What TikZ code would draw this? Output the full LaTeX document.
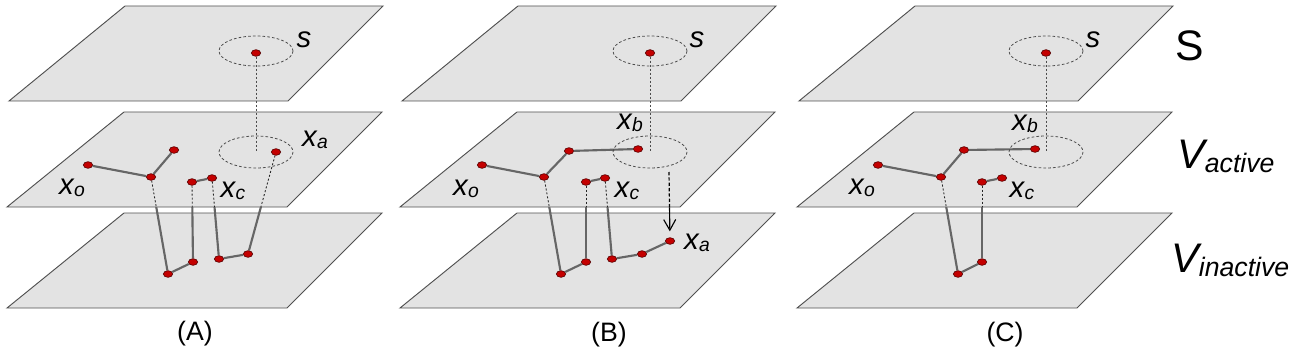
\documentclass[tikz,border=0pt]{standalone}
\usepackage{fontspec}
\setmainfont{Liberation Sans}
\usetikzlibrary{shapes.geometric,arrows.meta}

\definecolor{planefill}{HTML}{E3E3E3}
\definecolor{planeedge}{HTML}{505050}
\definecolor{linkgray}{HTML}{666666}
\definecolor{dotred}{HTML}{C40000}
\definecolor{dotedge}{HTML}{550000}

\pgfdeclarelayer{bgplane}
\pgfdeclarelayer{lowlinks}
\pgfdeclarelayer{midplane}
\pgfdeclarelayer{hiddenlinks}
\pgfsetlayers{bgplane,lowlinks,midplane,hiddenlinks,main}

\tikzset{
  plane/.style={fill=planefill, draw=planeedge, line width=0.7pt},
  dot/.style={ellipse, inner sep=0pt, minimum width=7pt, minimum height=5pt,
              fill=dotred, draw=dotedge, line width=0.45pt},
  link/.style={draw=linkgray, line width=1.6pt},
  hidden/.style={draw=black!85, line width=0.65pt, dash pattern=on 1.5pt off 1.5pt},
  ring/.style={draw=black!70, line width=0.6pt, dash pattern=on 2pt off 1.6pt},
  vdot/.style={draw=black!70, line width=0.6pt, dash pattern=on 1.5pt off 1.5pt},
  movearrow/.style={draw=black, line width=0.85pt, -{Straight Barb[length=8pt,width=9pt]}},
  movehidden/.style={draw=black, line width=0.9pt, dash pattern=on 2.5pt off 1.5pt},
  lab/.style={inner sep=0pt, font=\fontsize{22}{24}\selectfont\itshape},
  biglab/.style={inner sep=0pt, anchor=base west},
  panelcap/.style={inner sep=0pt, font=\fontsize{20}{24}\selectfont},
}
\newcommand{\lsub}[2]{#1\kern0.3pt\raisebox{-1pt}{\fontsize{14.5}{16}\selectfont #2}}
\newcommand{\midplanepath}[1]{(#1+124,112) -- (#1+382,112) -- (#1+287,207) -- (#1+7,207) -- cycle}

\begin{document}
\begin{tikzpicture}[x=0.75pt,y=-0.75pt]
\useasboundingbox (0,0) rectangle (1296,353);

% ---------- planes (top and bottom) ----------
\begin{pgfonlayer}{bgplane}
  \foreach \o in {0,393,790}{
    \filldraw[plane] (\o+125,6) -- (\o+383,6) -- (\o+288,101) -- (\o+9,101) -- cycle;
    \filldraw[plane] (\o+124,213) -- (\o+382,213) -- (\o+287,308) -- (\o+7,308) -- cycle;
  }
\end{pgfonlayer}
\begin{pgfonlayer}{midplane}
  \foreach \o in {0,393,790}{
    \filldraw[plane] \midplanepath{\o};
  }
\end{pgfonlayer}

% ---------- dots ----------
% panel A
\node[dot] (A-s)  at (256,53) {};
\node[dot] (A-xo) at (88,165) {};
\node[dot] (A-j)  at (151,177) {};
\node[dot] (A-u)  at (174,150) {};
\node[dot] (A-c1) at (192,182) {};
\node[dot] (A-c2) at (212,178) {};
\node[dot] (A-a)  at (276,152) {};
\node[dot] (A-b1) at (168,274) {};
\node[dot] (A-b2) at (193,262) {};
\node[dot] (A-b3) at (219,259) {};
\node[dot] (A-b4) at (248,254) {};
\coordinate (A-mc) at (256,152);
% panel B
\node[dot] (B-s)  at (650,53) {};
\node[dot] (B-xo) at (482,165) {};
\node[dot] (B-j)  at (544,177) {};
\node[dot] (B-u)  at (569,151) {};
\node[dot] (B-b)  at (638,149) {};
\node[dot] (B-c1) at (586,182) {};
\node[dot] (B-c2) at (605,178) {};
\node[dot] (B-b1) at (561,274) {};
\node[dot] (B-b2) at (586,262) {};
\node[dot] (B-b3) at (612,259) {};
\node[dot] (B-b4) at (642,254) {};
\node[dot] (B-xa) at (670,241) {};
\coordinate (B-mc) at (650,152);
\coordinate (B-arr) at (669,172);
% panel C
\node[dot] (C-s)  at (1046,53) {};
\node[dot] (C-xo) at (878,165) {};
\node[dot] (C-j)  at (941,177) {};
\node[dot] (C-u)  at (964,150) {};
\node[dot] (C-b)  at (1035,149) {};
\node[dot] (C-c1) at (982,182) {};
\node[dot] (C-c2) at (1002,178) {};
\node[dot] (C-b1) at (958,274) {};
\node[dot] (C-b2) at (982,262) {};
\coordinate (C-mc) at (1046,152);

% ---------- links between layers (solid below, dashed inside middle plane) ----------
\begin{pgfonlayer}{lowlinks}
  \draw[link] (A-j) -- (A-b1);  \draw[link] (A-c1) -- (A-b2);
  \draw[link] (A-c2) -- (A-b3); \draw[link] (A-a) -- (A-b4);
  \draw[link] (B-j) -- (B-b1);  \draw[link] (B-c1) -- (B-b2);
  \draw[link] (B-c2) -- (B-b3);
  \draw[link] (C-j) -- (C-b1);  \draw[link] (C-c1) -- (C-b2);
  \draw[movearrow, shorten >=4.5pt] (B-arr) -- (B-xa);
\end{pgfonlayer}
\begin{pgfonlayer}{hiddenlinks}
  \begin{scope}
    \clip \midplanepath{0};
    \draw[hidden] (A-j) -- (A-b1);  \draw[hidden] (A-c1) -- (A-b2);
    \draw[hidden] (A-c2) -- (A-b3); \draw[hidden] (A-a) -- (A-b4);
  \end{scope}
  \begin{scope}
    \clip \midplanepath{393};
    \draw[hidden] (B-j) -- (B-b1);  \draw[hidden] (B-c1) -- (B-b2);
    \draw[hidden] (B-c2) -- (B-b3);
    \draw[movehidden] (B-arr) -- (B-xa);
  \end{scope}
  \begin{scope}
    \clip \midplanepath{790};
    \draw[hidden] (C-j) -- (C-b1);  \draw[hidden] (C-c1) -- (C-b2);
  \end{scope}
\end{pgfonlayer}

% ---------- links within planes ----------
\draw[link] (A-xo) -- (A-j) -- (A-u);
\draw[link] (A-c1) -- (A-c2);
\draw[link] (A-b1) -- (A-b2);
\draw[link] (A-b3) -- (A-b4);
\draw[link] (B-xo) -- (B-j) -- (B-u) -- (B-b);
\draw[link] (B-c1) -- (B-c2);
\draw[link] (B-b1) -- (B-b2);
\draw[link] (B-b3) -- (B-b4) -- (B-xa);
\draw[link] (C-xo) -- (C-j) -- (C-u) -- (C-b);
\draw[link] (C-c1) -- (C-c2);
\draw[link] (C-b1) -- (C-b2);

% ---------- neighbourhood rings and projections ----------
\foreach \p/\x in {A/256,B/650,C/1046}{
  \draw[ring] (\x,51) ellipse [x radius=37, y radius=15];
  \draw[ring] (\p-mc) ellipse [x radius=37, y radius=16];
  \draw[vdot] (\p-s) -- (\p-mc);
}

% ---------- labels ----------
\node[lab] (A-ls)  at (304,40)  {s};
\node[lab] (A-lxa) at (315,140) {\lsub{x}{a}};
\node[lab] (A-lxo) at (72,188)  {\lsub{x}{o}};
\node[lab] (A-lxc) at (233,191) {\lsub{x}{c}};

\node[lab] (B-ls)  at (697,40)  {s};
\node[lab] (B-lxb) at (630,123) {\lsub{x}{b}};
\node[lab] (B-lxo) at (466,189) {\lsub{x}{o}};
\node[lab] (B-lxc) at (627,191) {\lsub{x}{c}};
\node[lab] (B-lxa) at (697,243) {\lsub{x}{a}};

\node[lab] (C-ls)  at (1093,40)  {s};
\node[lab] (C-lxb) at (1025,124) {\lsub{x}{b}};
\node[lab] (C-lxo) at (862,188)  {\lsub{x}{o}};
\node[lab] (C-lxc) at (1022,191) {\lsub{x}{c}};

\node[inner sep=0pt, font=\fontsize{32}{34}\selectfont] (S) at (1190,46) {S};
\node[biglab] (Vact) at (1177,168)
  {\fontsize{31}{34}\selectfont\itshape V\raisebox{-3pt}{\fontsize{20}{22}\selectfont active}};
\node[biglab] (Vin) at (1171,272)
  {\fontsize{31}{34}\selectfont\itshape V\raisebox{-3pt}{\fontsize{20}{22}\selectfont inactive}};

\node[panelcap] (capA) at (195,334) {(A)};
\node[panelcap] (capB) at (609,335) {(B)};
\node[panelcap] (capC) at (1005,335) {(C)};
\end{tikzpicture}
\end{document}
